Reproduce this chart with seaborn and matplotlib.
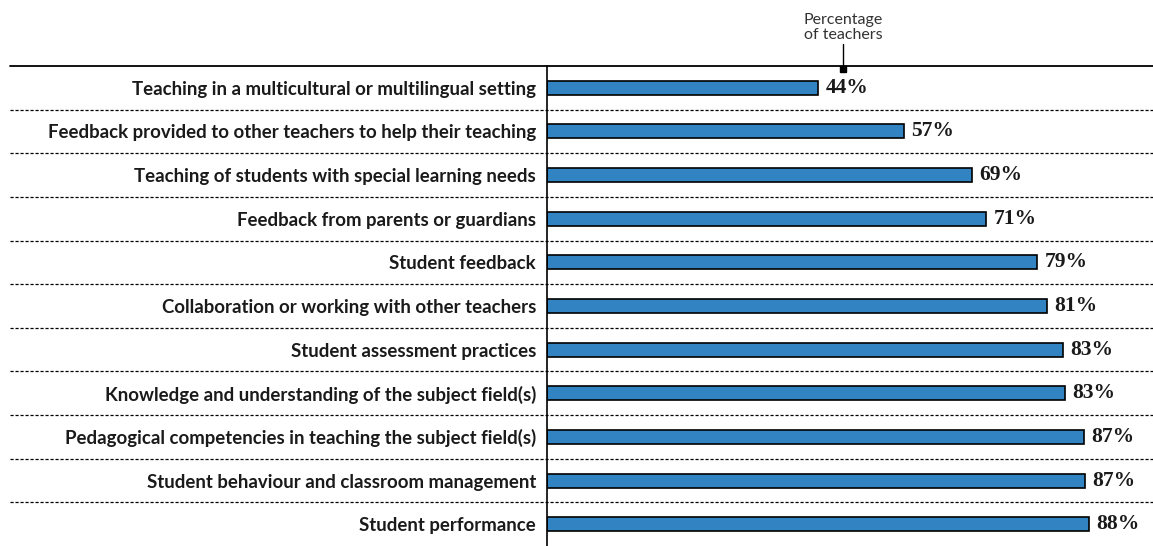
import pandas as pd
import matplotlib.pyplot as plt
import seaborn as sns

# Data
categories = [
    "Teaching in a multicultural or multilingual setting",
    "Feedback provided to other teachers to help their teaching",
    "Teaching of students with special learning needs",
    "Feedback from parents or guardians",
    "Student feedback",
    "Collaboration or working with other teachers",
    "Student assessment practices",
    "Knowledge and understanding of the subject field(s)",
    "Pedagogical competencies in teaching the subject field(s)",
    "Student behaviour and classroom management",
    "Student performance",
]
# bar lengths as measured, and the printed (rounded) labels
bar_lengths = [44.0, 57.9, 69.0, 71.3, 79.6, 81.2, 83.8, 84.1, 87.2, 87.3, 88.0]
labels = ["44%", "57%", "69%", "71%", "79%", "81%", "83%", "83%", "87%", "87%", "88%"]

df = pd.DataFrame({"category": categories, "pct": bar_lengths})

sns.set_style("white")
plt.rcParams['font.family'] = ['Lato', 'DejaVu Sans']

fig = plt.figure(figsize=(11.53, 5.46), dpi=100)
ax = fig.add_axes([547 / 1153, 0.0, 1 - 547 / 1153, 1 - 66 / 546])

sns.barplot(data=df, y="category", x="pct", orient="h", color="#3184C1",
            saturation=1, width=0.32, edgecolor="black", linewidth=1.2, ax=ax)

ax.set_xlim(0, 606 / 6.16)
ax.set_ylim(len(categories) - 0.5, -0.5)
ax.set_xlabel("")
ax.set_ylabel("")
ax.set_xticks([])
ax.set_yticks(range(len(categories)))
ax.set_yticklabels(categories, fontsize=13.4, fontweight="bold", color="#1a1a1a")
ax.tick_params(axis="y", length=0, pad=8)

for s in ["top", "right", "bottom"]:
    ax.spines[s].set_visible(False)
ax.spines["left"].set_color("black")
ax.spines["left"].set_linewidth(1.2)

# value labels
for i, (v, lab) in enumerate(zip(bar_lengths, labels)):
    ax.text(v + 1.2, i, lab, va="center", ha="left", fontsize=15.5,
            fontweight="bold", family="Liberation Serif", color="#1a1a1a")

# top solid rule and dashed separators spanning the full width
xmin = (10 - 547) / 606
ax.axhline(-0.5, xmin=xmin, xmax=1, color="black", lw=1.3, clip_on=False)
for i in range(len(categories) - 1):
    ax.axhline(i + 0.5, xmin=xmin, xmax=1, color="black", lw=0.9,
               ls=(0, (2.5, 1.5)), clip_on=False)

# "Percentage of teachers" pointer
px = (843 - 547) / 6.16
ax.plot([px, px], [-0.5 - 0.5, -0.42], color="black", lw=1, clip_on=False)
ax.plot([px], [-0.42], marker="s", ms=4.5, color="black", clip_on=False)
ax.text(px, -1.04, "Percentage\nof teachers", ha="center", va="bottom",
        fontsize=11.5, color="#333333", linespacing=1.15)

fig.savefig("out.png", dpi=100)
